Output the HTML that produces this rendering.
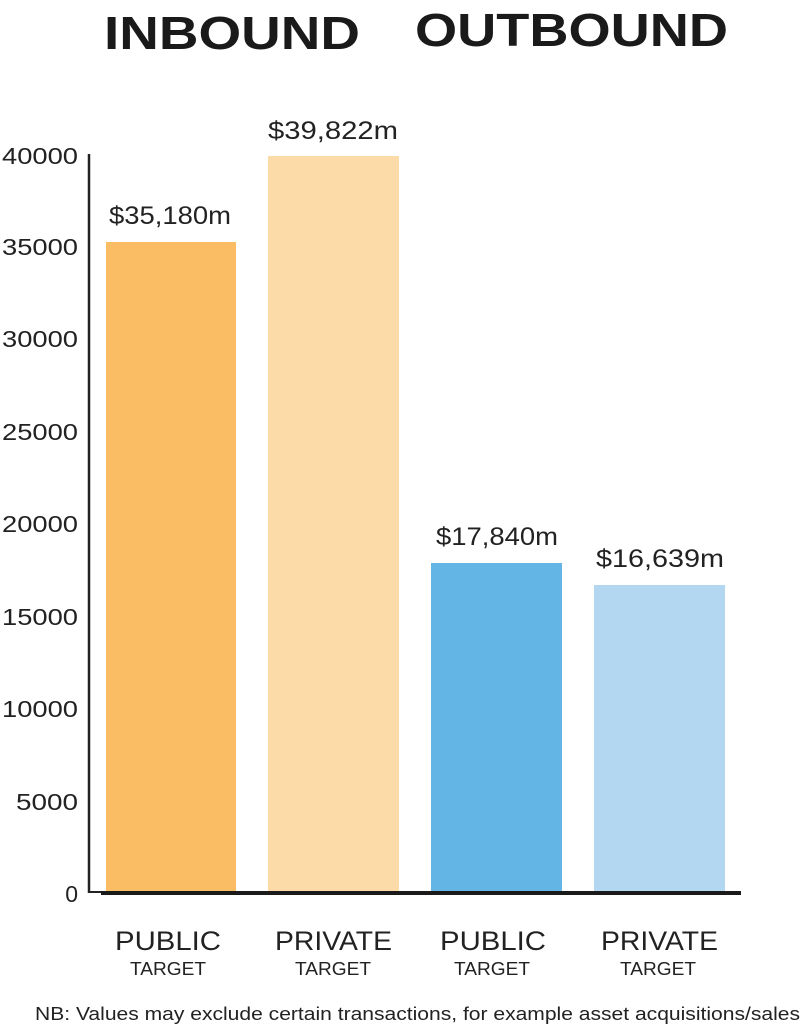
<!DOCTYPE html>
<html><head><style>
body{margin:0;background:#fff;}
svg{display:block;font-family:"Liberation Sans",sans-serif;}
</style></head><body>
<svg width="800" height="1030" xmlns="http://www.w3.org/2000/svg">
<text x="104" y="49" font-size="46" font-weight="bold" fill="#1a1a1a" textLength="256" lengthAdjust="spacingAndGlyphs">INBOUND</text>
<text x="415" y="46" font-size="46" font-weight="bold" fill="#1a1a1a" textLength="313" lengthAdjust="spacingAndGlyphs">OUTBOUND</text>
<g font-size="23" fill="#222" text-anchor="end">
<text x="78" y="902">0</text>
<text x="78" y="810" textLength="62" lengthAdjust="spacingAndGlyphs">5000</text>
<text x="78" y="717" textLength="76" lengthAdjust="spacingAndGlyphs">10000</text>
<text x="78" y="625" textLength="76" lengthAdjust="spacingAndGlyphs">15000</text>
<text x="78" y="532" textLength="76" lengthAdjust="spacingAndGlyphs">20000</text>
<text x="78" y="440" textLength="76" lengthAdjust="spacingAndGlyphs">25000</text>
<text x="78" y="347" textLength="76" lengthAdjust="spacingAndGlyphs">30000</text>
<text x="78" y="255" textLength="76" lengthAdjust="spacingAndGlyphs">35000</text>
<text x="78" y="164" textLength="76" lengthAdjust="spacingAndGlyphs">40000</text>
</g>
<rect x="106" y="242" width="130" height="651" fill="#FBBD63"/>
<rect x="268" y="156" width="131" height="737" fill="#FDDBA8"/>
<rect x="431" y="563" width="131" height="330" fill="#62B5E4"/>
<rect x="594" y="585" width="131" height="308" fill="#B3D7F1"/>
<line x1="89" y1="154" x2="89" y2="893" stroke="#222" stroke-width="2.5"/>
<line x1="88" y1="892" x2="102" y2="892" stroke="#222" stroke-width="2"/>
<line x1="101" y1="893" x2="741" y2="893" stroke="#1a1a1a" stroke-width="4"/>
<g font-size="25" fill="#222">
<text x="109" y="224" textLength="122" lengthAdjust="spacingAndGlyphs">$35,180m</text>
<text x="268" y="139" textLength="130" lengthAdjust="spacingAndGlyphs">$39,822m</text>
<text x="436" y="545" textLength="122" lengthAdjust="spacingAndGlyphs">$17,840m</text>
<text x="596" y="567" textLength="128" lengthAdjust="spacingAndGlyphs">$16,639m</text>
</g>
<g font-size="27" fill="#222">
<text x="115" y="950" textLength="106" lengthAdjust="spacingAndGlyphs">PUBLIC</text>
<text x="275" y="950" textLength="117" lengthAdjust="spacingAndGlyphs">PRIVATE</text>
<text x="440" y="950" textLength="106" lengthAdjust="spacingAndGlyphs">PUBLIC</text>
<text x="601" y="950" textLength="117" lengthAdjust="spacingAndGlyphs">PRIVATE</text>
</g>
<g font-size="18" fill="#222">
<text x="130" y="975" textLength="76" lengthAdjust="spacingAndGlyphs">TARGET</text>
<text x="295" y="975" textLength="76" lengthAdjust="spacingAndGlyphs">TARGET</text>
<text x="454" y="975" textLength="76" lengthAdjust="spacingAndGlyphs">TARGET</text>
<text x="620" y="975" textLength="76" lengthAdjust="spacingAndGlyphs">TARGET</text>
</g>
<text x="35" y="1020" font-size="18" fill="#222" textLength="765" lengthAdjust="spacingAndGlyphs">NB: Values may exclude certain transactions, for example asset acquisitions/sales</text>
</svg>
</body></html>
